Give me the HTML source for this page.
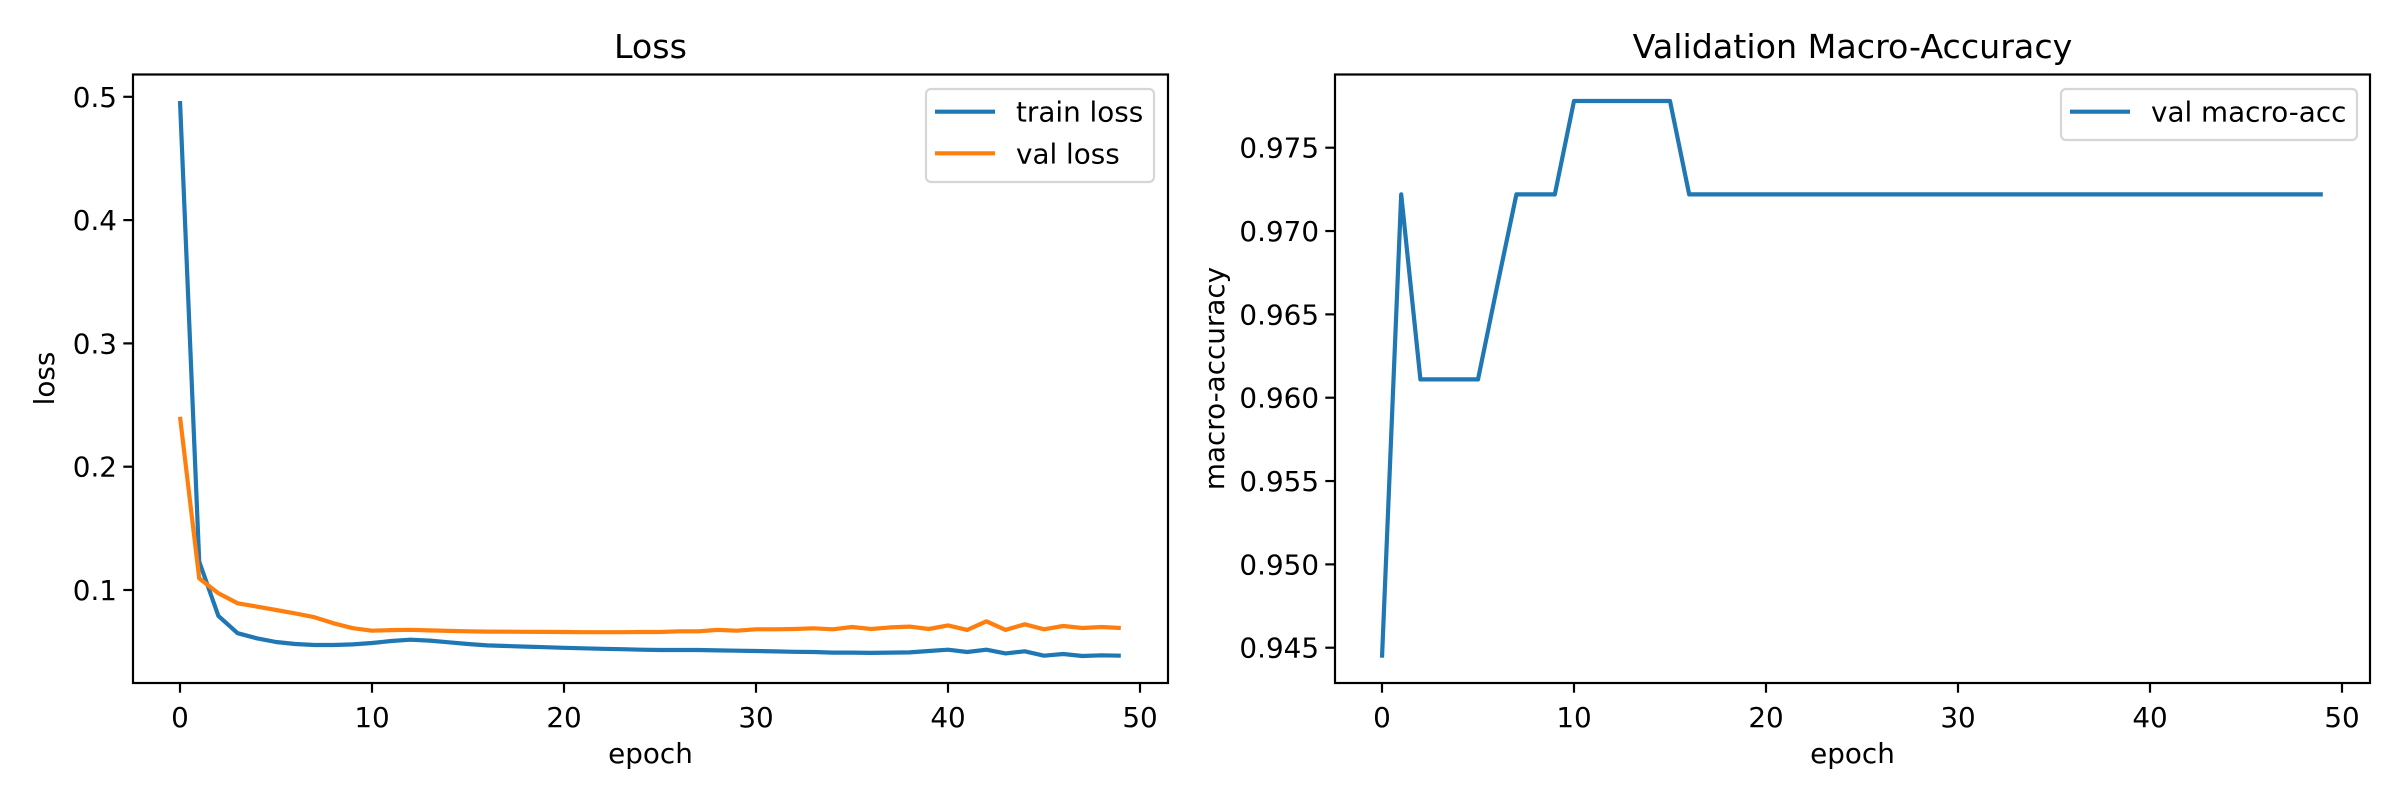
<!DOCTYPE html>
<html><head><meta charset="utf-8"><style>
html,body{margin:0;padding:0;background:#fff;}
svg{display:block;font-family:"DejaVu Sans","Liberation Sans",sans-serif;}
</style></head><body>
<svg id="fig" width="2400" height="800" viewBox="0 0 2400 800">
<rect width="2400" height="800" fill="#fff"/>
<g id="g1"></g>
<g id="g2"></g>
</svg>
<script>
const epochs = Array.from({length:50},(_,i)=>i);
const trainLoss = [0.4966,0.123,0.079,0.065,0.0608,0.0578,0.0562,0.0554,0.0554,0.0559,0.057,0.0586,0.0597,0.059,0.0576,0.0562,0.0551,0.0546,0.0541,0.0536,0.0531,0.0527,0.0523,0.052,0.0516,0.0513,0.0513,0.0513,0.051,0.0508,0.0505,0.0502,0.0499,0.0497,0.0492,0.0492,0.049,0.0492,0.0494,0.0505,0.0516,0.0497,0.0516,0.0486,0.0503,0.0467,0.0481,0.0465,0.047,0.0467];
const valLoss = [0.2405,0.1095,0.0973,0.0892,0.0865,0.0838,0.081,0.0779,0.073,0.069,0.067,0.0675,0.0677,0.0672,0.0668,0.0665,0.0663,0.0662,0.0661,0.066,0.0659,0.0658,0.0658,0.0658,0.0659,0.0659,0.0665,0.0665,0.0676,0.067,0.0681,0.0681,0.0684,0.0689,0.0681,0.07,0.0684,0.0697,0.0703,0.0684,0.0713,0.0676,0.0746,0.0676,0.0722,0.0681,0.0708,0.0692,0.07,0.0692];
const valAcc = [0.9444,0.9722,0.9611,0.9611,0.9611,0.9611,0.9667,0.9722,0.9722,0.9722,0.9778,0.9778,0.9778,0.9778,0.9778,0.9778,0.9722,0.9722,0.9722,0.9722,0.9722,0.9722,0.9722,0.9722,0.9722,0.9722,0.9722,0.9722,0.9722,0.9722,0.9722,0.9722,0.9722,0.9722,0.9722,0.9722,0.9722,0.9722,0.9722,0.9722,0.9722,0.9722,0.9722,0.9722,0.9722,0.9722,0.9722,0.9722,0.9722,0.9722];
const xTicks = [0,10,20,30,40,50];
const lossTicks = [0.1,0.2,0.3,0.4,0.5];
const lossTickLabels = ["0.1","0.2","0.3","0.4","0.5"];
const accTicks = [0.945,0.950,0.955,0.960,0.965,0.970,0.975];
const accTickLabels = ["0.945","0.950","0.955","0.960","0.965","0.970","0.975"];

const NS="http://www.w3.org/2000/svg";
function el(p,tag,attrs,text){const e=document.createElementNS(NS,tag);for(const k in attrs)e.setAttribute(k,attrs[k]);if(text!==undefined)e.textContent=text;p.appendChild(e);return e;}

function panel(g,L,xs,ys,yTicks,yLabels,series,title,ylabel,ylabelX,legend){
  const T=74.5,B=683,R=L+1035;
  series.forEach(s=>{
    const pts=s.vals.map((v,i)=>xs(epochs[i]).toFixed(1)+','+ys(v).toFixed(1)).join(' ');
    const pl=el(g,'polyline',{points:pts,fill:'none',stroke:s.color,'stroke-width':4.2,'stroke-linejoin':'round'});
    
    
  });
  const fr=el(g,'rect',{x:L,y:T,width:R-L,height:B-T,fill:'none',stroke:'#000','stroke-width':2.2});
  
  
  xTicks.forEach(t=>{
    const x=xs(t);
    el(g,'line',{x1:x,y1:B,x2:x,y2:B+9.7,stroke:'#000','stroke-width':2.2});
    const tx=el(g,'text',{x:x,y:727,'font-size':27.8,'text-anchor':'middle'},String(t));
    
    
  });
  yTicks.forEach((t,i)=>{
    const y=ys(t);
    el(g,'line',{x1:L,y1:y,x2:L-9.7,y2:y,stroke:'#000','stroke-width':2.2});
    const tx=el(g,'text',{x:L-16,y:y+10,'font-size':27.8,'text-anchor':'end'},yLabels[i]);
    
    
  });
  const ti=el(g,'text',{x:(L+R)/2,y:58,'font-size':33.3,'text-anchor':'middle'},title);
  
  
  const xl=el(g,'text',{x:(L+R)/2,y:763,'font-size':27.8,'text-anchor':'middle'},'epoch');
  
  
  const yl=el(g,'text',{x:0,y:0,'font-size':27.8,'text-anchor':'middle',transform:`translate(${ylabelX},378.5) rotate(-90)`},ylabel);
  
  
  const lg=el(g,'g',{});
  
  
  el(lg,'rect',{x:legend.x,y:89,width:legend.w,height:legend.h,rx:5,fill:'#fff','fill-opacity':0.8,stroke:'#d6d6d6','stroke-width':2.2});
  series.forEach((s,i)=>{
    const y=111.7+i*41.6;
    const en=el(lg,'g',{});
    
    
    el(en,'line',{x1:legend.x+9,y1:y,x2:legend.x+69,y2:y,stroke:s.color,'stroke-width':4.2});
    el(en,'text',{x:legend.x+90,y:y+10,'font-size':27.8},s.label);
  });
}

const g1=document.getElementById('g1');
const xs1=e=>180+19.2*e;
const ys1=v=>713.3-v*1233;
panel(g1,133,xs1,ys1,lossTicks,lossTickLabels,
 [{vals:trainLoss,color:'#1f77b4',name:'train-loss',label:'train loss'},{vals:valLoss,color:'#ff7f0e',name:'val-loss',label:'val loss'}],
 'Loss','loss',54,{x:926,w:228,h:93});

const g2=document.getElementById('g2');
const xs2=e=>1382+19.2*e;
const ys2=v=>147.7-(v-0.975)*16667;
panel(g2,1335,xs2,ys2,accTicks,accTickLabels,
 [{vals:valAcc,color:'#1f77b4',name:'val-macro-acc',label:'val macro-acc'}],
 'Validation Macro-Accuracy','macro-accuracy',1224,{x:2061,w:296,h:51});
</script>
</body></html>
